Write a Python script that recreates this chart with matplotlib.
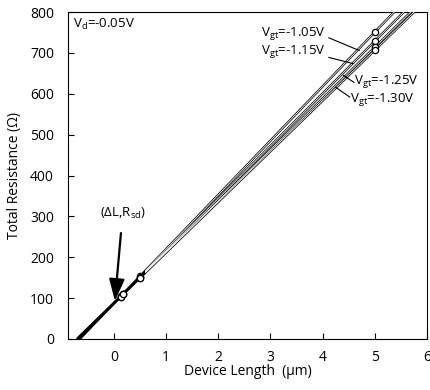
import numpy as np
import matplotlib.pyplot as plt

plt.rcParams['font.family'] = ['Open Sans', 'DejaVu Sans']
plt.rcParams['mathtext.default'] = 'regular'

# measured points (device length in um, total resistance in ohm)
gate_labels = ['-1.05', '-1.15', '-1.25', '-1.30']
lengths = [0.13, 0.18, 0.5, 5.0]
r_105 = [104.0, 110.6, 153.2, 751]
r_115 = [103.9, 110.3, 151.4, 729]
r_125 = [103.8, 110.0, 150.1, 714]
r_130 = [103.7, 109.9, 149.6, 707]
series = [r_105, r_115, r_125, r_130]

fig = plt.figure(figsize=(4.3, 3.9), dpi=100)
ax = fig.add_axes([0.158, 0.131, 0.835, 0.838])

fits = [np.polyfit(lengths, r, 1) for r in series]
# black outlines first, then white cores, so the bundle reads as double lines
for slope, icpt in fits:
    xs = np.array([-icpt / slope, 6.5])
    ax.plot(xs, icpt + slope * xs, color='black', lw=1.7, solid_capstyle='butt', zorder=2)
for slope, icpt in fits:
    xs = np.array([0.6, 6.5])
    ax.plot(xs, icpt + slope * xs, color='white', lw=0.6, solid_capstyle='butt', zorder=3)
for r in series:
    ax.plot(lengths, r, 'o', ms=4.5, mfc='white', mec='black', mew=0.9, zorder=4)

ax.set_xlim(-0.88, 6)
ax.set_ylim(0, 800)
ax.set_xticks(range(0, 7))
ax.set_yticks(range(0, 801, 100))
ax.tick_params(direction='in', length=4, labelsize=10)
ax.tick_params(axis='x', pad=8)
ax.tick_params(axis='y', pad=10)
ax.set_xlabel('Device Length  (µm)', fontsize=10, labelpad=-1)
ax.set_ylabel('Total Resistance (Ω)', fontsize=10, labelpad=6)

ax.text(-0.78, 770, r'V$_{d}$=-0.05V', fontsize=9.5, va='center')

# labels with leader lines
lab_pos = [(2.81, 748), (2.81, 703), (4.6, 630), (4.52, 585)]
lead = [((4.12, 737), (4.7, 706)), ((4.12, 689), (4.58, 674)),
        ((4.4, 645), (4.6, 628)), ((4.25, 616), (4.52, 592))]
for g, (tx, ty), (p1, p2) in zip(gate_labels, lab_pos, lead):
    ax.text(tx, ty, r'V$_{gt}$=' + g + 'V', fontsize=9.5, va='center', ha='left')
    ax.plot([p1[0], p2[0]], [p1[1], p2[1]], color='black', lw=0.8, zorder=5)

ax.annotate(r'($\Delta$L,R$_{sd}$)', xy=(0.02, 93), xytext=(0.17, 308),
            ha='center', va='center', fontsize=9.5,
            arrowprops=dict(arrowstyle='-|>,head_length=1.4,head_width=0.5',
                            color='black', lw=1.6, shrinkA=7, shrinkB=0))

fig.savefig('out.png', dpi=100)
